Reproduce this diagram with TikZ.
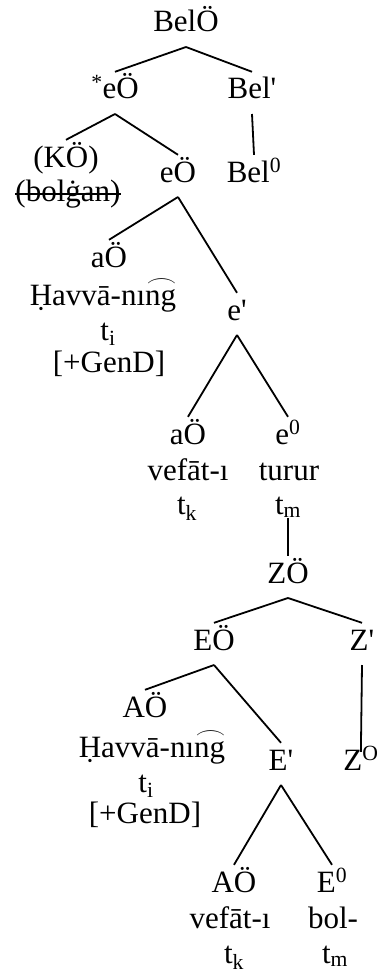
\documentclass[tikz,border=0pt]{standalone}
\usepackage{fontspec}
\setmainfont{Liberation Serif}
\newcommand{\tiedng}{\makebox[0pt][l]{\hspace{0.04em}\raisebox{0.6em}{\resizebox{0.98em}{0.24em}{$\frown$}}}ng}

\begin{document}
\begin{tikzpicture}[x=1pt,y=-1pt]
  % Stile fuer Kategorien und Woerter
  \tikzset{
    cat/.style={font=\fontsize{31}{37}\selectfont,anchor=base,inner sep=0pt,text height=27pt,text depth=0pt},
    word/.style={font=\fontsize{31}{37}\selectfont,anchor=base,inner sep=0pt},
    branch/.style={line width=1.8pt}
  }
  \useasboundingbox (0,0) rectangle (378,974);

  % Oberer Baum
  \node[cat] (belOP) at (186,32) {BelÖ};
  \node[cat] (stareOP) at (115,99) {\textsuperscript{*}eÖ};
  \node[cat] (belBar) at (252,99) {Bel\textquotesingle};
  \node[cat] (kOP) at (66,167) {(KÖ)};
  \node[word] (bolgan) at (68,201) {(bolġan)};
  \draw[line width=1.2pt] ([yshift=7pt]bolgan.base west) -- ([yshift=7pt]bolgan.base east);
  \node[cat] (eOP) at (178,182) {eÖ};
  \node[cat] (bel0) at (254,182) {Bel\textsuperscript{0}};
  \node[cat] (aOP1) at (109,267) {aÖ};
  \node[word] (havva1) at (103,305) {Ḥavvā-nı\tiedng};
  \node[word] (ti1) at (108,340) {t\textsubscript{i}};
  \node[word] (gend1) at (109,372) {[+GenD]};
  \node[cat] (eBar) at (237,320) {e\textquotesingle};
  \node[cat] (aOP2) at (188,444) {aÖ};
  \node[word] (vefat1) at (188,480) {vefāt-ı};
  \node[word] (tk1) at (187,514) {t\textsubscript{k}};
  \node[cat] (e0) at (288,444) {e\textsuperscript{0}};
  \node[word] (turur) at (289,480) {turur};
  \node[word] (tm1) at (288,514) {t\textsubscript{m}};

  % Unterer Baum
  \node[cat] (zOP) at (288,583) {ZÖ};
  \node[cat] (EOP) at (214,650) {EÖ};
  \node[cat] (zBar) at (362,650) {Z\textquotesingle};
  \node[cat] (AOP) at (145,717) {AÖ};
  \node[word] (havva2) at (152,757) {Ḥavvā-nı\tiedng};
  \node[word] (ti2) at (146,792) {t\textsubscript{i}};
  \node[word] (gend2) at (145,823) {[+GenD]};
  \node[cat] (EBar) at (281,770) {E\textquotesingle};
  \node[cat] (z0) at (361,770) {Z\textsuperscript{O}};
  \node[cat] (AOP2) at (234,892) {AÖ};
  \node[word] (vefat2) at (230,928) {vefāt-ı};
  \node[word] (tk2) at (234,963) {t\textsubscript{k}};
  \node[cat] (E0) at (332,892) {E\textsuperscript{0}};
  \node[word] (bol) at (333,928) {bol-};
  \node[word] (tm2) at (335,963) {t\textsubscript{m}};

  \foreach \from/\to in {belOP/stareOP,belOP/belBar,stareOP/kOP,stareOP/eOP,belBar/bel0,
      eOP/aOP1,eOP/eBar,eBar/aOP2,eBar/e0,zOP/EOP,zOP/zBar,EOP/AOP,EOP/EBar,
      EBar/AOP2,EBar/E0}
    \draw[branch] ([yshift=-15pt]\from.base) -- (\to.north);
  \draw[branch] (tm1.south) -- (zOP.north);
  \draw[branch,shorten >=-9pt] ([yshift=-15pt]zBar.base) -- (z0.north);
\end{tikzpicture}
\end{document}
